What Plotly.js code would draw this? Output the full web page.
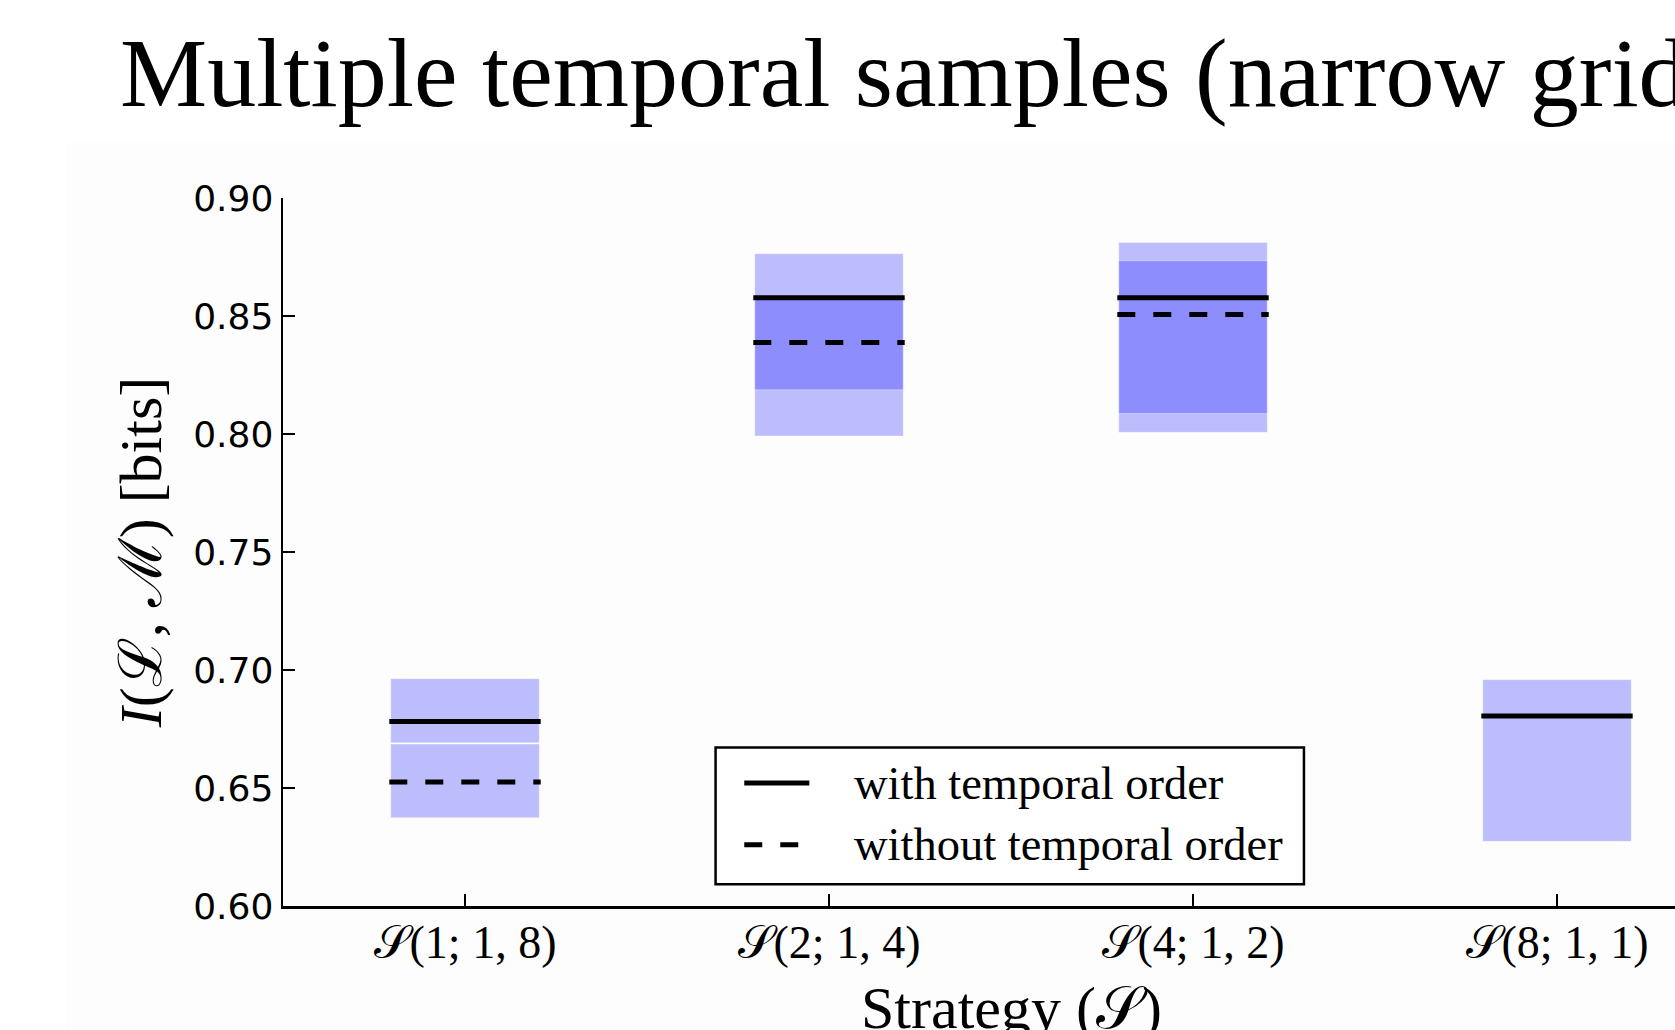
<!DOCTYPE html>
<html>
<head>
<meta charset="utf-8">
<script src="https://cdn.plot.ly/plotly-3.0.1.min.js"></script>
<style>
  html, body { margin: 0; padding: 0; background: #ffffff; overflow: hidden; width: 1675px; height: 1030px; }
  #panel { position: absolute; left: 66px; top: 142px; width: 1609px; height: 888px; background: #fdfdfd; }
  #chart { position: absolute; left: 0; top: 0; width: 1800px; height: 1030px; }
</style>
</head>
<body>
<div id="panel"></div>
<div id="chart"></div>
<script>
// Sampling strategies on the x axis
const strategies = ['𝒮(1; 1, 8)', '𝒮(2; 1, 4)', '𝒮(4; 1, 2)', '𝒮(8; 1, 1)'];
const positions = [0, 1, 2, 3];

// Mutual information, with temporal order: band and mean
const withLow  = [0.6692, 0.7992, 0.8007, 0.6274];
const withHigh = [0.6963, 0.8764, 0.8811, 0.6959];
const withMean = [0.6782, 0.8577, 0.8577, 0.6805];

// Mutual information, without temporal order: band and mean
const withoutLow  = [0.6374, 0.8187, 0.8087, null];
const withoutHigh = [0.6686, 0.8577, 0.8734, null];
const withoutMean = [0.6525, 0.8388, 0.8506, null];

const yTicks = [0.60, 0.65, 0.70, 0.75, 0.80, 0.85, 0.90];
const legendLabels = ['with temporal order', 'without temporal order'];
const xTitle = 'Strategy (𝒮)';

// Style constants
const BOX_WIDTH = 0.408;
const LINE_HALF = 0.208;
const BAND_FILL = 'rgba(0,0,255,0.25)';
const SERIF = '"Liberation Serif", "DejaVu Serif", serif';
const SANS = '"DejaVu Sans", sans-serif';

function bandTrace(low, high, name) {
  return {
    type: 'bar',
    name: name,
    x: positions,
    base: low,
    y: low.map((v, i) => (v === null || high[i] === null ? null : high[i] - v)),
    width: BOX_WIDTH,
    marker: { color: BAND_FILL, line: { color: 'rgba(255,255,255,0.35)', width: 1 } },
    hoverinfo: 'skip',
    showlegend: false
  };
}

function meanTrace(means, dash, name) {
  const xs = [], ys = [];
  means.forEach((m, i) => {
    if (m === null) return;
    xs.push(positions[i] - LINE_HALF, positions[i] + LINE_HALF, null);
    ys.push(m, m, null);
  });
  return {
    type: 'scatter',
    mode: 'lines',
    name: name,
    x: xs,
    y: ys,
    line: { color: '#000000', width: 5, dash: dash },
    hoverinfo: 'skip',
    showlegend: false
  };
}

const traces = [
  bandTrace(withLow, withHigh, 'with band'),
  bandTrace(withoutLow, withoutHigh, 'without band'),
  meanTrace(withMean, 'solid', legendLabels[0]),
  meanTrace(withoutMean, '18px,18px', legendLabels[1])
];

// Legend drawn as a framed box with line samples and labels (paper coordinates)
const legendBox = { x0: 0.2971, x1: 0.7012, y0: 0.0306, y1: 0.2237 };
const legendRows = [0.1737, 0.0864];
const sampleX = [0.3168, 0.3615];
const labelX = 0.391;

const shapes = [
  { type: 'rect', xref: 'paper', yref: 'paper', x0: legendBox.x0, x1: legendBox.x1, y0: legendBox.y0, y1: legendBox.y1,
    line: { color: '#000000', width: 2.5 }, fillcolor: '#ffffff', layer: 'above' },
  { type: 'line', xref: 'paper', yref: 'paper', x0: sampleX[0], x1: sampleX[1], y0: legendRows[0], y1: legendRows[0],
    line: { color: '#000000', width: 5 }, layer: 'above' },
  { type: 'line', xref: 'paper', yref: 'paper', x0: sampleX[0], x1: sampleX[1], y0: legendRows[1], y1: legendRows[1],
    line: { color: '#000000', width: 5, dash: '18px,18px' }, layer: 'above' }
];

const annotations = legendLabels.map((t, k) => ({
  xref: 'paper', yref: 'paper', x: labelX, y: legendRows[k], xanchor: 'left', yanchor: 'middle',
  text: t, showarrow: false, font: { family: SERIF, size: 46.5, color: '#000000' }
}));

// x-axis title, placed below the tick labels
annotations.push({
  xref: 'paper', yref: 'paper', x: 0.5, y: -0.1445, xanchor: 'center', yanchor: 'middle',
  text: xTitle, showarrow: false, font: { family: SERIF, size: 60, color: '#000000' }
});

const layout = {
  width: 1800,
  height: 1030,
  margin: { l: 283, r: 61, t: 198, b: 124 },
  paper_bgcolor: 'rgba(0,0,0,0)',
  plot_bgcolor: 'rgba(0,0,0,0)',
  barmode: 'overlay',
  showlegend: false,
  title: {
    text: 'Multiple temporal samples (narrow grid)',
    font: { family: SERIF, size: 98, color: '#000000' },
    xref: 'container', x: 120 / 1800, xanchor: 'left',
    yref: 'container', y: 1 - 37 / 1030, yanchor: 'top'
  },
  xaxis: {
    range: [-0.5, 3.5],
    tickvals: positions,
    ticktext: strategies,
    ticks: 'inside', ticklen: 12, tickwidth: 1.5, tickcolor: '#000000',
    showline: true, linecolor: '#000000', linewidth: 2.5,
    showgrid: false, zeroline: false,
    tickfont: { family: SERIF, size: 46, color: '#000000' },
    ticklabelstandoff: -6,
    automargin: false
  },
  yaxis: {
    range: [0.60, 0.90],
    tickvals: yTicks,
    tickformat: '.2f',
    ticks: 'inside', ticklen: 12, tickwidth: 1.5, tickcolor: '#000000',
    showline: true, linecolor: '#000000', linewidth: 2.5,
    showgrid: false, zeroline: false,
    tickfont: { family: SANS, size: 36, color: '#000000' },
    title: { text: '<i>I</i>(ℒ, ℳ) [bits]', font: { family: SERIF, size: 60, color: '#000000' }, standoff: 12 },
    automargin: false
  },
  shapes: shapes,
  annotations: annotations
};

Plotly.newPlot('chart', traces, layout, { displayModeBar: false, staticPlot: true });
</script>
</body>
</html>
